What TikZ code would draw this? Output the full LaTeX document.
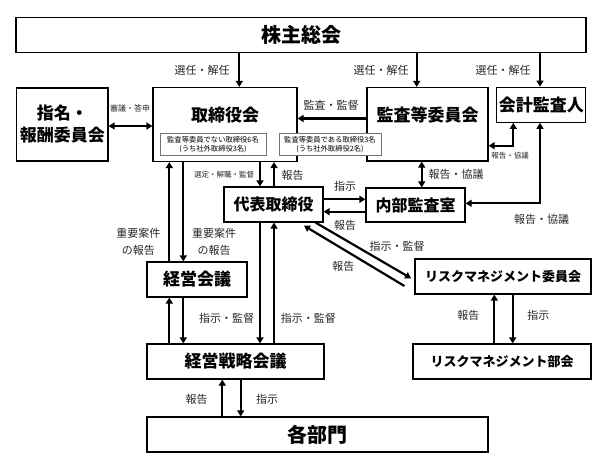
\documentclass[tikz,border=0pt]{standalone}
\usepackage{fontspec}
\setmainfont{Noto Sans CJK JP}
\usetikzlibrary{arrows.meta,calc}
\begin{document}
\begin{tikzpicture}[x=1pt,y=-1pt,
  box/.style={draw,line width=1.2pt,inner sep=0pt,align=center,font=\bfseries\fontsize{16}{20}\selectfont},
  boxtxt/.style={inner sep=0pt,align=center,font=\bfseries\fontsize{16}{20}\selectfont},
  ib/.style={draw=black!55,line width=0.6pt,fill=white,inner sep=0pt,align=center,font=\fontsize{7.3}{8.8}\selectfont},
  lab/.style={inner sep=0pt,align=center,text=black!85,font=\fontsize{11}{17}\selectfont},
  slab/.style={inner sep=0pt,align=center,text=black!85,font=\fontsize{7.5}{9}\selectfont},
  tip/.tip={Triangle[length=6pt,width=7pt]},
  arr/.style={line width=2.2pt,-tip},
  darr/.style={line width=2.2pt,tip-tip}]
\useasboundingbox (0,0) rectangle (604,469);

% boxes
\node[box,minimum width=570pt,minimum height=35pt,font=\bfseries\fontsize{20}{24}\selectfont] (sh) at (301,34.75) {株主総会};
\node[box,minimum width=91.3pt,minimum height=73pt,font=\bfseries\fontsize{17}{22}\selectfont] (nom) at (62.35,124.5) {指名・\\報酬委員会};
\node[box,minimum width=144pt,minimum height=74pt] (bod) at (225,124.5) {};
\node[boxtxt,font=\bfseries\fontsize{17}{20}\selectfont] (bodt) at (225,115) {取締役会};
\node[box,minimum width=121pt,minimum height=73.5pt] (ac) at (427.5,124.25) {};
\node[boxtxt,font=\bfseries\fontsize{17}{20}\selectfont] (act) at (427.5,115) {監査等委員会};
\node[box,minimum width=89pt,minimum height=35pt,font=\bfseries\fontsize{17}{20}\selectfont] (aud) at (541.35,104.75) {会計監査人};
\node[ib,minimum width=106pt,minimum height=22.5pt] (ib1) at (213,144.3) {監査等委員でない取締役6名\\(うち社外取締役3名)};
\node[ib,minimum width=102pt,minimum height=22.5pt] (ib2) at (330,144.3) {監査等委員である取締役3名\\(うち社外取締役2名)};
\node[box,minimum width=99pt,minimum height=35pt] (rep) at (273.5,204.5) {代表取締役};
\node[box,minimum width=99pt,minimum height=34pt] (ia) at (415.5,205) {内部監査室};
\node[box,minimum width=100pt,minimum height=35pt,font=\bfseries\fontsize{17}{20}\selectfont] (mm) at (197,279.5) {経営会議};
\node[box,minimum width=176pt,minimum height=35pt,font=\bfseries\fontsize{13}{16}\selectfont] (rmc) at (503,276.5) {リスクマネジメント委員会};
\node[box,minimum width=177pt,minimum height=35pt,font=\bfseries\fontsize{17}{20}\selectfont] (ms) at (235.5,361.5) {経営戦略会議};
\node[box,minimum width=178pt,minimum height=35pt,font=\bfseries\fontsize{13}{16}\selectfont] (rmd) at (502,361.5) {リスクマネジメント部会};
\node[box,minimum width=341pt,minimum height=35pt,font=\bfseries\fontsize{20}{24}\selectfont] (dep) at (317.5,434.5) {各部門};

% helper coordinates
\coordinate (xa) at (239.3,0);
\coordinate (xb) at (416.7,0);
\coordinate (xc) at (540,0);
\coordinate (xd) at (513.3,0);
\coordinate (xe) at (260,0);
\coordinate (xf) at (274,0);
\coordinate (xg) at (169.3,0);
\coordinate (xh) at (183.3,0);
\coordinate (xi) at (494.3,0);
\coordinate (xj) at (512.7,0);
\coordinate (xk) at (222.3,0);
\coordinate (xl) at (240.7,0);
\coordinate (xm) at (421.7,0);
\coordinate (ya) at (0,126);
\coordinate (yb) at (0,118.5);
\coordinate (yc) at (0,145.7);
\coordinate (yd) at (0,203.3);
\coordinate (ye) at (0,199.3);
\coordinate (yf) at (0,211.7);

% connectors
\draw[arr] (sh.south -| xa) -- (bod.north -| xa);
\draw[arr] (sh.south -| xb) -- (ac.north -| xb);
\draw[arr] (sh.south -| xc) -- (aud.north -| xc);
\draw[darr] (nom.east |- ya) -- (bod.west |- ya);
\draw[arr] (ac.west |- yb) -- (bod.east |- yb);
\draw[darr] (aud.south -| xd) |- (ac.east |- yc);
\draw[darr] (aud.south -| xc) |- (ia.east |- yd);
\draw[darr] (ac.south -| xm) -- (ia.north -| xm);
\draw[arr] (bod.south -| xe) -- (rep.north -| xe);
\draw[arr] (rep.north -| xf) -- (bod.south -| xf);
\draw[arr] (rep.east |- ye) -- (ia.west |- ye);
\draw[arr] (ia.west |- yf) -- (rep.east |- yf);
\draw[arr] ($(rep.south east)+(-8,0)$) -- ($(rmc.west)+(-3.3,1.8)$);
\draw[arr] ($(rmc.west)+(-10,9.5)$) -- ($(rep.south east)+(-19.7,3)$);
\draw[arr] (mm.north -| xg) -- (bod.south -| xg);
\draw[arr] (bod.south -| xh) -- (mm.north -| xh);
\draw[arr] (ms.north -| xg) -- (mm.south -| xg);
\draw[arr] (mm.south -| xh) -- (ms.north -| xh);
\draw[arr] (rep.south -| xe) -- (ms.north -| xe);
\draw[arr] (ms.north -| xf) -- (rep.south -| xf);
\draw[arr] (rmd.north -| xi) -- (rmc.south -| xi);
\draw[arr] (rmc.south -| xj) -- (rmd.north -| xj);
\draw[arr] (dep.north -| xk) -- (ms.south -| xk);
\draw[arr] (ms.south -| xl) -- (dep.north -| xl);

% labels
\node[lab] (l1) at (202,70) {選任・解任};
\node[lab] (l2) at (381,70) {選任・解任};
\node[lab] (l3) at (503,70) {選任・解任};
\node[slab,font=\fontsize{8}{9}\selectfont] (l4) at (130,108) {審議・答申};
\node[lab] (l5) at (331,105) {監査・監督};
\node[slab] (l6) at (510,155.5) {報告・協議};
\node[lab] (l7) at (541.5,219) {報告・協議};
\node[lab] (l8) at (456,174) {報告・協議};
\node[slab] (l9) at (224,175) {選定・解職・監督};
\node[lab] (l10) at (292.5,175) {報告};
\node[lab] (l11) at (345,186) {指示};
\node[lab] (l12) at (345,225) {報告};
\node[lab] (l13) at (397,246) {指示・監督};
\node[lab] (l14) at (343.3,266.5) {報告};
\node[lab] (l15) at (138.3,241.5) {重要案件\\の報告};
\node[lab] (l16) at (214,241.5) {重要案件\\の報告};
\node[lab] (l17) at (226.7,318) {指示・監督};
\node[lab] (l18) at (308.3,318) {指示・監督};
\node[lab] (l19) at (468.3,315) {報告};
\node[lab] (l20) at (538.3,315) {指示};
\node[lab] (l21) at (196.7,399) {報告};
\node[lab] (l22) at (267.2,399) {指示};
\end{tikzpicture}
\end{document}
